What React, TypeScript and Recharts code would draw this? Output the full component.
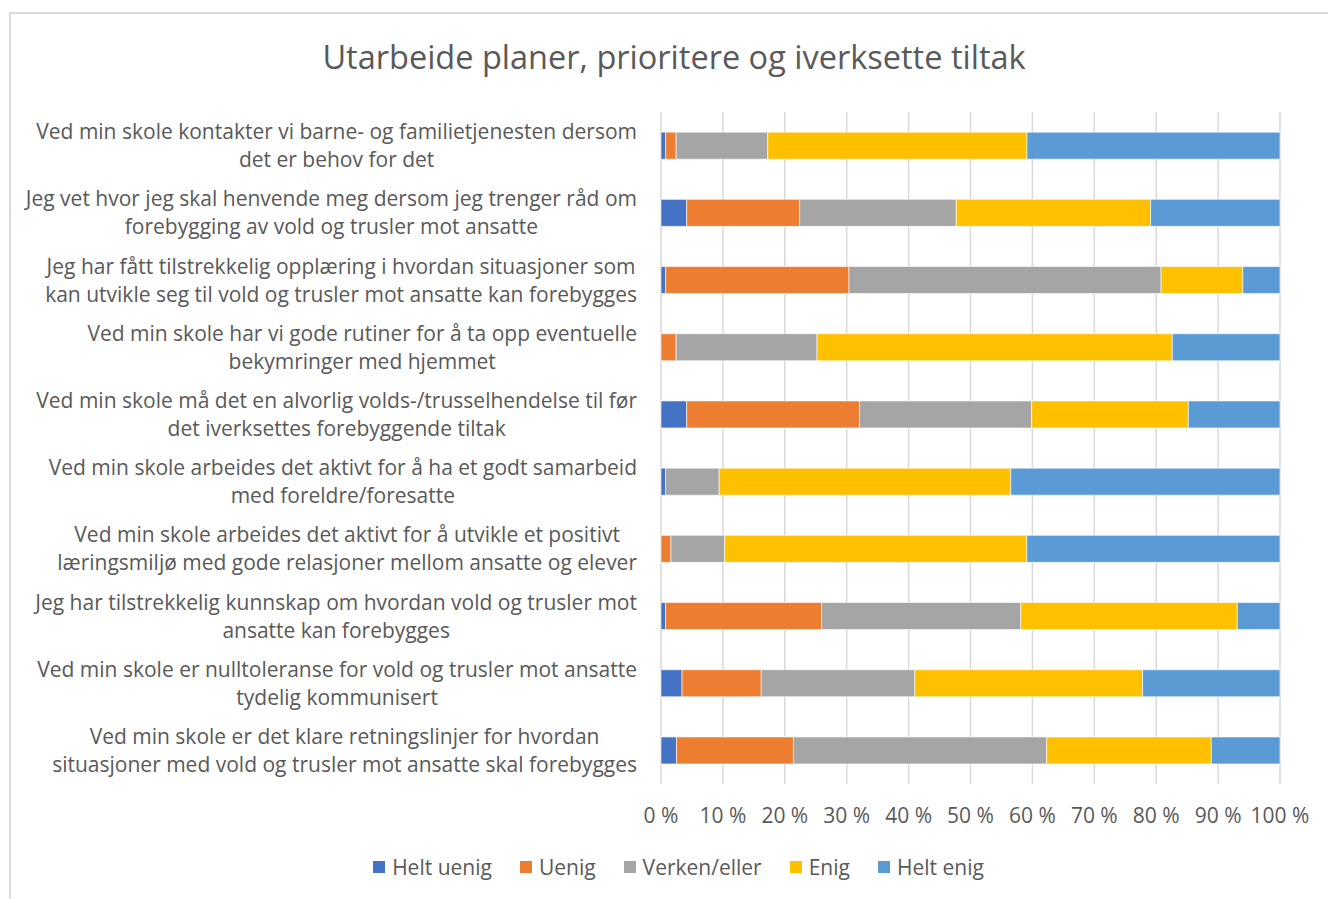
import { BarChart, Bar, XAxis, YAxis, CartesianGrid, Legend } from "recharts";

const FONT = "'Open Sans', sans-serif";
const TEXT = "#595959";
const LABEL_SIZE = 21;

const categories = [
  "Ved min skole kontakter vi barne- og familietjenesten dersom\ndet er behov for det",
  "Jeg vet hvor jeg skal henvende meg dersom jeg trenger råd om\nforebygging av vold og trusler mot ansatte",
  "Jeg har fått tilstrekkelig opplæring i hvordan situasjoner som\nkan utvikle seg til vold og trusler mot ansatte kan forebygges",
  "Ved min skole har vi gode rutiner for å ta opp eventuelle\nbekymringer med hjemmet",
  "Ved min skole må det en alvorlig volds-/trusselhendelse til før\ndet iverksettes forebyggende tiltak",
  "Ved min skole arbeides det aktivt for å ha et godt samarbeid\nmed foreldre/foresatte",
  "Ved min skole arbeides det aktivt for å utvikle et positivt\nlæringsmiljø med gode relasjoner mellom ansatte og elever",
  "Jeg har tilstrekkelig kunnskap om hvordan vold og trusler mot\nansatte kan forebygges",
  "Ved min skole er nulltoleranse for vold og trusler mot ansatte\ntydelig kommunisert",
  "Ved min skole er det klare retningslinjer for hvordan\nsituasjoner med vold og trusler mot ansatte skal forebygges",
];

const heltUenig = [0.75, 4.15, 0.75, 0, 4.15, 0.75, 0, 0.75, 3.4, 2.5];
const uenig = [1.7, 18.25, 29.6, 2.45, 27.9, 0, 1.6, 25.2, 12.8, 18.9];
const verken = [14.8, 25.3, 50.4, 22.75, 27.8, 8.65, 8.7, 32.2, 24.8, 40.9];
const enig = [41.9, 31.4, 13.2, 57.4, 25.3, 47.1, 48.8, 35.0, 36.8, 26.6];
const heltEnig = [40.9, 20.9, 6.0, 17.4, 14.8, 43.5, 40.9, 6.9, 22.2, 11.1];

const seriesNames = ["Helt uenig", "Uenig", "Verken/eller", "Enig", "Helt enig"];
const seriesColors = ["#4472C4", "#ED7D31", "#A5A5A5", "#FFC000", "#5B9BD5"];
const xTicks = [0, 0.1, 0.2, 0.3, 0.4, 0.5, 0.6, 0.7, 0.8, 0.9, 1];

const data = categories.map((name, i) => ({
  name,
  "Helt uenig": heltUenig[i],
  Uenig: uenig[i],
  "Verken/eller": verken[i],
  Enig: enig[i],
  "Helt enig": heltEnig[i],
}));

let ctx: CanvasRenderingContext2D | null = null;
const measure = (s: string, size: number) => {
  if (!ctx) ctx = document.createElement("canvas").getContext("2d");
  if (!ctx) return s.length * size * 0.52;
  ctx.font = `${size}px 'Open Sans'`;
  return ctx.measureText(s).width;
};

const CategoryTick = ({ x, y, payload }: any) => {
  const lines = String(payload.value).split("\n");
  const w = Math.max(...lines.map((l) => measure(l, LABEL_SIZE)));
  const cx = x - w / 2;
  const lh = 28;
  const y0 = y - ((lines.length - 1) * lh) / 2;
  return (
    <text x={cx} y={y0} textAnchor="middle" fill={TEXT} fontSize={LABEL_SIZE} fontFamily={FONT}>
      {lines.map((l, i) => (
        <tspan key={i} x={cx} y={y0 + i * lh} dy="0.36em">
          {l}
        </tspan>
      ))}
    </text>
  );
};

// legend in series order (recharts sorts its payload by name)
const LegendContent = () => (
  <div style={{ display: "flex", justifyContent: "center", gap: 28, fontFamily: FONT, fontSize: 21, color: TEXT }}>
    {seriesNames.map((s, i) => (
      <div key={s} style={{ display: "flex", alignItems: "center" }}>
        <span style={{ width: 12, height: 12, background: seriesColors[i], marginRight: 7, display: "inline-block" }} />
        <span>{s}</span>
      </div>
    ))}
  </div>
);

export default function App() {
  return (
    <div style={{ position: "absolute", left: 0, top: 0, width: 1328, height: 899, overflow: "hidden", background: "#fff" }}>
      <div
        style={{
          position: "absolute",
          left: 9,
          top: 12,
          width: 1340,
          height: 920,
          border: "2px solid #d9d9d9",
          boxSizing: "border-box",
        }}
      />
      <div
        style={{
          position: "absolute",
          left: 20,
          width: 1308,
          top: 35,
          lineHeight: "44px",
          textAlign: "center",
          fontSize: 32.5,
          fontFamily: FONT,
          color: TEXT,
        }}
      >
        Utarbeide planer, prioritere og iverksette tiltak
      </div>
      <div style={{ position: "absolute", left: 0, top: 0 }}>
        <BarChart
          width={1328}
          height={899}
          data={data}
          layout="vertical"
          stackOffset="expand"
          barCategoryGap="30%"
          margin={{ top: 112, right: 48, bottom: 57, left: 0 }}
        >
          <CartesianGrid horizontal={false} stroke="#d9d9d9" strokeWidth={1.5} />
          <XAxis
            type="number"
            domain={[0, 1]}
            ticks={xTicks}
            tickFormatter={(v: number) => `${Math.round(v * 100)} %`}
            axisLine={false}
            tickLine={false}
            tickMargin={18}
            interval={0}
            tick={{ fill: TEXT, fontSize: 21, fontFamily: FONT }}
          />
          <YAxis
            type="category"
            dataKey="name"
            width={661}
            axisLine={false}
            tickLine={false}
            tickMargin={18}
            interval={0}
            tick={<CategoryTick />}
          />
          <Legend
            content={<LegendContent />}
            wrapperStyle={{ position: "absolute", left: 0, top: 853, width: 1357 }}
          />
          {seriesNames.map((s, i) => (
            <Bar key={s} dataKey={s} stackId="a" fill={seriesColors[i]} stroke="#fff" strokeWidth={0.6} isAnimationActive={false} />
          ))}
        </BarChart>
      </div>
    </div>
  );
}
